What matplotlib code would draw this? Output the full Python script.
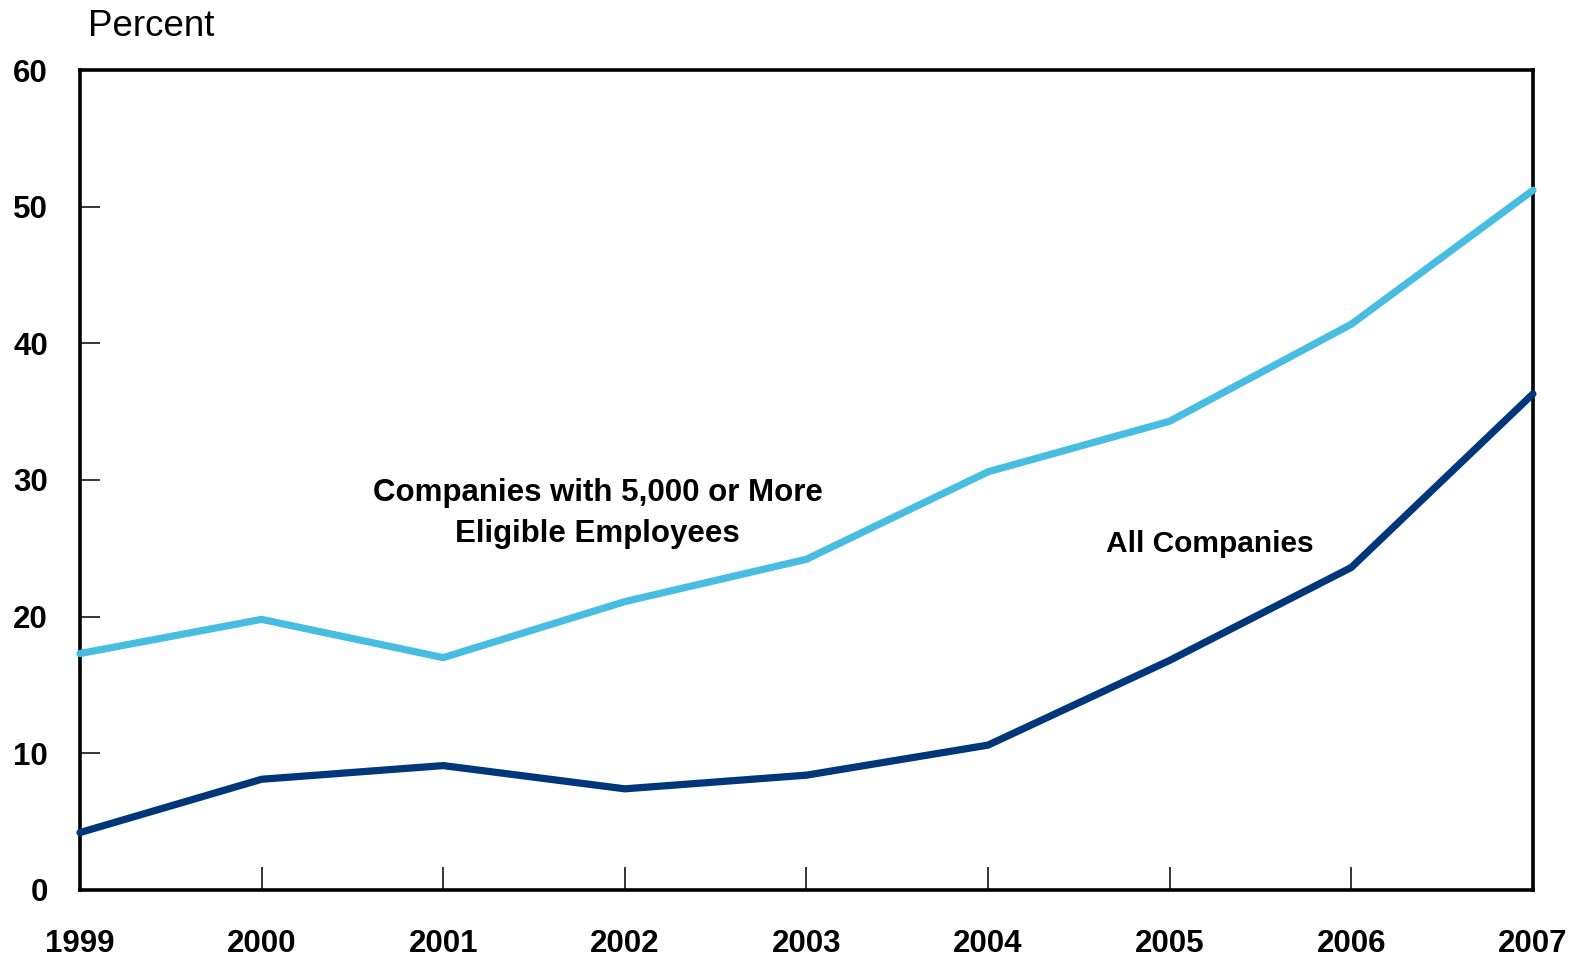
import matplotlib
matplotlib.use("Agg")
import matplotlib.pyplot as plt
from matplotlib.font_manager import FontProperties

years = [1999, 2000, 2001, 2002, 2003, 2004, 2005, 2006, 2007]
large_companies = [17.3, 19.8, 17.0, 21.1, 24.2, 30.6, 34.3, 41.4, 51.2]
all_companies = [4.2, 8.1, 9.1, 7.4, 8.4, 10.6, 16.8, 23.6, 36.3]
y_ticks = [0, 10, 20, 30, 40, 50, 60]

light_blue = "#47BDE1"
dark_blue = "#00377A"

fig = plt.figure(figsize=(15.81, 9.59), dpi=100)
ax = fig.add_axes([0.0506, 0.072, 0.919, 0.855])

ax.plot(years, large_companies, color=light_blue, lw=5.2, solid_capstyle="round",
        solid_joinstyle="miter", clip_on=False, zorder=3)
ax.plot(years, all_companies, color=dark_blue, lw=5.2, solid_capstyle="round",
        solid_joinstyle="miter", clip_on=False, zorder=3)

ax.set_xlim(1999, 2007)
ax.set_ylim(0, 60)
ax.set_xticks(years)
ax.set_xticklabels([str(y) for y in years])
ax.set_yticks(y_ticks)
ax.set_yticklabels([str(v) for v in y_ticks])

for s in ax.spines.values():
    s.set_linewidth(2.6)
    s.set_color("black")

tick_font = dict(family="Liberation Sans", weight="bold", size=22.5)
ax.tick_params(axis="x", direction="in", length=16.5, width=1.1, pad=28)
ax.tick_params(axis="y", direction="in", length=14.5, width=1.1, pad=23)
for lab in ax.get_xticklabels() + ax.get_yticklabels():
    lab.set_fontproperties(FontProperties(**tick_font))

# hide the ticks that would sit on the frame corners
for t in ax.xaxis.get_major_ticks():
    if t.get_loc() in (1999, 2007):
        t.tick1line.set_visible(False)
for t in ax.yaxis.get_major_ticks():
    if t.get_loc() in (0, 60):
        t.tick1line.set_visible(False)

label_font = dict(family="Liberation Sans", weight="bold", size=22.5)
ax.text(2001.85, 29.05, "Companies with 5,000 or More",
        ha="center", va="center", **label_font)
ax.text(2001.85, 26.05, "Eligible Employees",
        ha="center", va="center", **label_font)
ax.text(2005.22, 25.3, "All Companies", ha="center", va="center",
        family="Liberation Sans", weight="bold", size=21.5)

fig.text(88 / 1581, 1 - 36 / 959, "Percent", family="Liberation Sans", size=26.5,
         ha="left", va="baseline")

fig.savefig("out.png", dpi=100, facecolor="white")
